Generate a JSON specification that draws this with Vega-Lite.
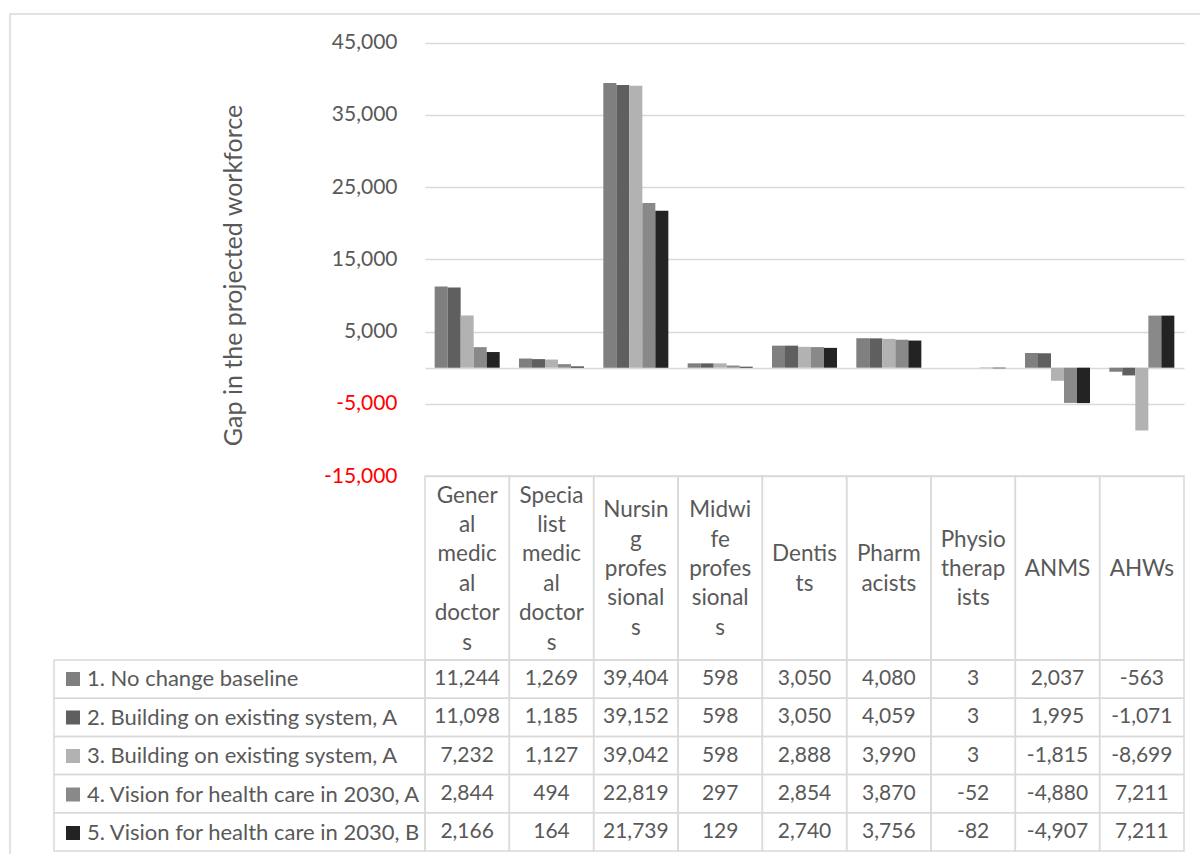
{
  "$schema": "https://vega.github.io/schema/vega-lite/v6.json",
  "width": 1200,
  "height": 850,
  "autosize": "none",
  "padding": {"left": 10, "top": 14, "right": 0, "bottom": 0},
  "background": "white",
  "config": {
    "font": "Lato",
    "view": {"stroke": "#d9d9d9", "strokeWidth": 1.5},
    "locale": {"number": {"decimal": ".", "thousands": ",", "grouping": [3], "currency": ["$", ""], "minus": "-"}}
  },
  "data": {
    "values": [
      {"occupation": "Gener\nal\nmedic\nal\ndoctor\ns", "scenario": "1. No change baseline", "gap": 11244},
      {"occupation": "Specia\nlist\nmedic\nal\ndoctor\ns", "scenario": "1. No change baseline", "gap": 1269},
      {"occupation": "Nursin\ng\nprofes\nsional\ns", "scenario": "1. No change baseline", "gap": 39404},
      {"occupation": "Midwi\nfe\nprofes\nsional\ns", "scenario": "1. No change baseline", "gap": 598},
      {"occupation": "Dentis\nts", "scenario": "1. No change baseline", "gap": 3050},
      {"occupation": "Pharm\nacists", "scenario": "1. No change baseline", "gap": 4080},
      {"occupation": "Physio\ntherap\nists", "scenario": "1. No change baseline", "gap": 3},
      {"occupation": "ANMS", "scenario": "1. No change baseline", "gap": 2037},
      {"occupation": "AHWs", "scenario": "1. No change baseline", "gap": -563},
      {"occupation": "Gener\nal\nmedic\nal\ndoctor\ns", "scenario": "2. Building on existing system, A", "gap": 11098},
      {"occupation": "Specia\nlist\nmedic\nal\ndoctor\ns", "scenario": "2. Building on existing system, A", "gap": 1185},
      {"occupation": "Nursin\ng\nprofes\nsional\ns", "scenario": "2. Building on existing system, A", "gap": 39152},
      {"occupation": "Midwi\nfe\nprofes\nsional\ns", "scenario": "2. Building on existing system, A", "gap": 598},
      {"occupation": "Dentis\nts", "scenario": "2. Building on existing system, A", "gap": 3050},
      {"occupation": "Pharm\nacists", "scenario": "2. Building on existing system, A", "gap": 4059},
      {"occupation": "Physio\ntherap\nists", "scenario": "2. Building on existing system, A", "gap": 3},
      {"occupation": "ANMS", "scenario": "2. Building on existing system, A", "gap": 1995},
      {"occupation": "AHWs", "scenario": "2. Building on existing system, A", "gap": -1071},
      {"occupation": "Gener\nal\nmedic\nal\ndoctor\ns", "scenario": "3. Building on existing system, A", "gap": 7232},
      {"occupation": "Specia\nlist\nmedic\nal\ndoctor\ns", "scenario": "3. Building on existing system, A", "gap": 1127},
      {"occupation": "Nursin\ng\nprofes\nsional\ns", "scenario": "3. Building on existing system, A", "gap": 39042},
      {"occupation": "Midwi\nfe\nprofes\nsional\ns", "scenario": "3. Building on existing system, A", "gap": 598},
      {"occupation": "Dentis\nts", "scenario": "3. Building on existing system, A", "gap": 2888},
      {"occupation": "Pharm\nacists", "scenario": "3. Building on existing system, A", "gap": 3990},
      {"occupation": "Physio\ntherap\nists", "scenario": "3. Building on existing system, A", "gap": 3},
      {"occupation": "ANMS", "scenario": "3. Building on existing system, A", "gap": -1815},
      {"occupation": "AHWs", "scenario": "3. Building on existing system, A", "gap": -8699},
      {"occupation": "Gener\nal\nmedic\nal\ndoctor\ns", "scenario": "4. Vision for health care in 2030, A", "gap": 2844},
      {"occupation": "Specia\nlist\nmedic\nal\ndoctor\ns", "scenario": "4. Vision for health care in 2030, A", "gap": 494},
      {"occupation": "Nursin\ng\nprofes\nsional\ns", "scenario": "4. Vision for health care in 2030, A", "gap": 22819},
      {"occupation": "Midwi\nfe\nprofes\nsional\ns", "scenario": "4. Vision for health care in 2030, A", "gap": 297},
      {"occupation": "Dentis\nts", "scenario": "4. Vision for health care in 2030, A", "gap": 2854},
      {"occupation": "Pharm\nacists", "scenario": "4. Vision for health care in 2030, A", "gap": 3870},
      {"occupation": "Physio\ntherap\nists", "scenario": "4. Vision for health care in 2030, A", "gap": -52},
      {"occupation": "ANMS", "scenario": "4. Vision for health care in 2030, A", "gap": -4880},
      {"occupation": "AHWs", "scenario": "4. Vision for health care in 2030, A", "gap": 7211},
      {"occupation": "Gener\nal\nmedic\nal\ndoctor\ns", "scenario": "5. Vision for health care in 2030, B", "gap": 2166},
      {"occupation": "Specia\nlist\nmedic\nal\ndoctor\ns", "scenario": "5. Vision for health care in 2030, B", "gap": 164},
      {"occupation": "Nursin\ng\nprofes\nsional\ns", "scenario": "5. Vision for health care in 2030, B", "gap": 21739},
      {"occupation": "Midwi\nfe\nprofes\nsional\ns", "scenario": "5. Vision for health care in 2030, B", "gap": 129},
      {"occupation": "Dentis\nts", "scenario": "5. Vision for health care in 2030, B", "gap": 2740},
      {"occupation": "Pharm\nacists", "scenario": "5. Vision for health care in 2030, B", "gap": 3756},
      {"occupation": "Physio\ntherap\nists", "scenario": "5. Vision for health care in 2030, B", "gap": -82},
      {"occupation": "ANMS", "scenario": "5. Vision for health care in 2030, B", "gap": -4907},
      {"occupation": "AHWs", "scenario": "5. Vision for health care in 2030, B", "gap": 7211}
    ]
  },
  "resolve": {"scale": {"x": "independent", "y": "independent"}},
  "layer": [
    {
      "mark": {"type": "bar"},
      "encoding": {
        "x": {"field": "occupation", "type": "nominal", "sort": null, "scale": {"range": [415, 1174], "paddingInner": 0.229, "paddingOuter": 0.1145}, "axis": null},
        "xOffset": {"field": "scenario", "type": "nominal", "sort": null},
        "y": {
          "field": "gap", "type": "quantitative",
          "scale": {"domain": [-15000, 45000], "range": [462, 28.7], "nice": false, "zero": false},
          "axis": {
            "title": "Gap in the projected workforce",
            "values": [-15000, -5000, 0, 5000, 15000, 25000, 35000, 45000],
            "format": ",d",
            "labelExpr": "datum.value === 0 ? '' : datum.label",
            "offset": -415,
            "domain": false,
            "ticks": false,
            "labelPadding": 28,
            "labelFontSize": 21,
            "labelColor": {"condition": {"test": "datum.value < 0", "value": "#ff0000"}, "value": "#595959"},
            "titleFontSize": 25,
            "titleFontWeight": "normal",
            "titleColor": "#595959",
            "titlePadding": 77,
            "titleY": 261,
            "grid": true,
            "gridColor": "#d9d9d9",
            "gridWidth": 1.5
          }
        },
        "color": {
          "field": "scenario", "type": "nominal", "sort": null,
          "scale": {"range": ["#7f7f7f", "#5f5f5f", "#b2b2b2", "#898989", "#232323"]},
          "legend": {
            "orient": "none", "legendX": 52, "legendY": 654, "title": null,
            "symbolType": "square", "symbolSize": 196, "symbolStrokeWidth": 0,
            "labelFontSize": 22, "labelColor": "#595959", "rowPadding": 16.5,
            "labelOffset": 3, "padding": 0, "labelLimit": 400
          }
        }
      }
    },
    {
      "transform": [{"filter": "datum.scenario === '1. No change baseline'"}],
      "mark": {"type": "rect", "fill": "transparent", "stroke": "#d9d9d9", "strokeWidth": 1.5},
      "encoding": {
        "x": {"field": "occupation", "type": "nominal", "sort": null, "scale": {"range": [415, 1174], "paddingInner": 0, "paddingOuter": 0}, "axis": null},
        "y": {"datum": "header", "type": "nominal", "scale": {"range": [462, 646], "paddingInner": 0, "paddingOuter": 0}, "axis": null}
      }
    },
    {
      "transform": [{"filter": "datum.scenario === '1. No change baseline'"}],
      "mark": {"type": "text", "lineBreak": "\n", "lineHeight": 29.4, "fontSize": 22.5, "color": "#595959", "align": "center", "baseline": "middle", "dy": -72.5},
      "encoding": {
        "x": {"field": "occupation", "type": "nominal", "sort": null, "scale": {"range": [415, 1174], "paddingInner": 0, "paddingOuter": 0}, "axis": null},
        "y": {"datum": "header", "type": "nominal", "scale": {"range": [462, 646], "paddingInner": 0, "paddingOuter": 0}, "axis": null},
        "text": {"condition": {"test": "length(split(datum.occupation, '\\n')) === 6", "field": "occupation"}, "value": ""}
      }
    },
    {
      "transform": [{"filter": "datum.scenario === '1. No change baseline'"}],
      "mark": {"type": "text", "lineBreak": "\n", "lineHeight": 29.4, "fontSize": 22.5, "color": "#595959", "align": "center", "baseline": "middle", "dy": -57.8},
      "encoding": {
        "x": {"field": "occupation", "type": "nominal", "sort": null, "scale": {"range": [415, 1174], "paddingInner": 0, "paddingOuter": 0}, "axis": null},
        "y": {"datum": "header", "type": "nominal", "scale": {"range": [462, 646], "paddingInner": 0, "paddingOuter": 0}, "axis": null},
        "text": {"condition": {"test": "length(split(datum.occupation, '\\n')) === 5", "field": "occupation"}, "value": ""}
      }
    },
    {
      "transform": [{"filter": "datum.scenario === '1. No change baseline'"}],
      "mark": {"type": "text", "lineBreak": "\n", "lineHeight": 29.4, "fontSize": 22.5, "color": "#595959", "align": "center", "baseline": "middle", "dy": -28.4},
      "encoding": {
        "x": {"field": "occupation", "type": "nominal", "sort": null, "scale": {"range": [415, 1174], "paddingInner": 0, "paddingOuter": 0}, "axis": null},
        "y": {"datum": "header", "type": "nominal", "scale": {"range": [462, 646], "paddingInner": 0, "paddingOuter": 0}, "axis": null},
        "text": {"condition": {"test": "length(split(datum.occupation, '\\n')) === 3", "field": "occupation"}, "value": ""}
      }
    },
    {
      "transform": [{"filter": "datum.scenario === '1. No change baseline'"}],
      "mark": {"type": "text", "lineBreak": "\n", "lineHeight": 29.4, "fontSize": 22.5, "color": "#595959", "align": "center", "baseline": "middle", "dy": -13.7},
      "encoding": {
        "x": {"field": "occupation", "type": "nominal", "sort": null, "scale": {"range": [415, 1174], "paddingInner": 0, "paddingOuter": 0}, "axis": null},
        "y": {"datum": "header", "type": "nominal", "scale": {"range": [462, 646], "paddingInner": 0, "paddingOuter": 0}, "axis": null},
        "text": {"condition": {"test": "length(split(datum.occupation, '\\n')) === 2", "field": "occupation"}, "value": ""}
      }
    },
    {
      "transform": [{"filter": "datum.scenario === '1. No change baseline'"}],
      "mark": {"type": "text", "lineBreak": "\n", "lineHeight": 29.4, "fontSize": 22.5, "color": "#595959", "align": "center", "baseline": "middle", "dy": 1},
      "encoding": {
        "x": {"field": "occupation", "type": "nominal", "sort": null, "scale": {"range": [415, 1174], "paddingInner": 0, "paddingOuter": 0}, "axis": null},
        "y": {"datum": "header", "type": "nominal", "scale": {"range": [462, 646], "paddingInner": 0, "paddingOuter": 0}, "axis": null},
        "text": {"condition": {"test": "length(split(datum.occupation, '\\n')) === 1", "field": "occupation"}, "value": ""}
      }
    },
    {
      "mark": {"type": "rect", "fill": "transparent", "stroke": "#d9d9d9", "strokeWidth": 1.5},
      "encoding": {
        "x": {"field": "occupation", "type": "nominal", "sort": null, "scale": {"range": [415, 1174], "paddingInner": 0, "paddingOuter": 0}, "axis": null},
        "y": {"field": "scenario", "type": "nominal", "sort": null, "scale": {"range": [646, 837], "paddingInner": 0, "paddingOuter": 0}, "axis": null}
      }
    },
    {
      "mark": {"type": "text", "fontSize": 21, "color": "#595959", "align": "center", "baseline": "middle"},
      "encoding": {
        "x": {"field": "occupation", "type": "nominal", "sort": null, "scale": {"range": [415, 1174], "paddingInner": 0, "paddingOuter": 0}, "axis": null},
        "y": {"field": "scenario", "type": "nominal", "sort": null, "scale": {"range": [646, 837], "paddingInner": 0, "paddingOuter": 0}, "axis": null},
        "text": {"field": "gap", "type": "quantitative", "format": ",d"}
      }
    },
    {
      "transform": [{"filter": "datum.occupation === 'ANMS'"}],
      "mark": {"type": "rect", "fill": "transparent", "stroke": "#d9d9d9", "strokeWidth": 1.5},
      "encoding": {
        "x": {"datum": "series", "type": "nominal", "scale": {"range": [44, 415], "paddingInner": 0, "paddingOuter": 0}, "axis": null},
        "y": {"field": "scenario", "type": "nominal", "sort": null, "scale": {"range": [646, 837], "paddingInner": 0, "paddingOuter": 0}, "axis": null}
      }
    }
  ]
}
